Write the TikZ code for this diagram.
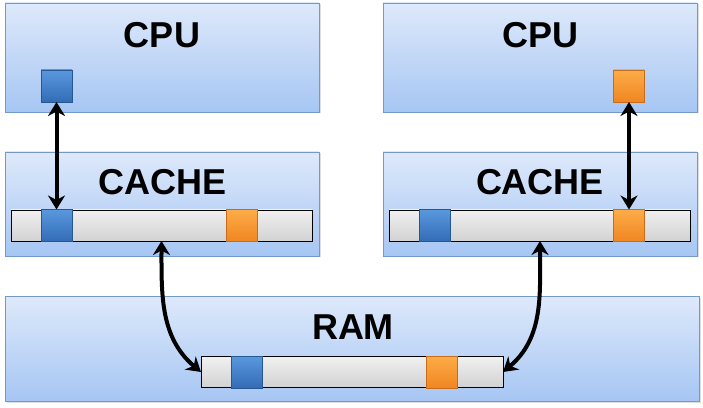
\documentclass[tikz,border=0pt]{standalone}
\usepackage{fontspec}
\setmainfont{Liberation Sans}
\usetikzlibrary{arrows.meta,shadows}
\definecolor{boxtop}{RGB}{222,233,251}
\definecolor{boxbot}{RGB}{166,198,243}
\definecolor{boxline}{RGB}{115,152,204}
\definecolor{bartop}{RGB}{240,240,240}
\definecolor{barbot}{RGB}{210,210,210}
\definecolor{bluetop}{RGB}{90,152,222}
\definecolor{bluebot}{RGB}{50,108,182}
\definecolor{blueline}{RGB}{38,86,148}
\definecolor{orangetop}{RGB}{253,172,72}
\definecolor{orangebot}{RGB}{240,134,34}
\definecolor{orangeline}{RGB}{198,108,28}

\begin{document}
\begin{tikzpicture}[x=1pt,y=1pt,
    box/.style={draw=boxline, line width=0.8pt, top color=boxtop, bottom color=boxbot,
      inner sep=0pt, outer sep=0pt, minimum width=314pt, anchor=north west,
      drop shadow={shadow xshift=1.5pt, shadow yshift=-1.5pt, opacity=0.25}},
    bar/.style={draw=black, line width=0.8pt, top color=bartop, bottom color=barbot,
      inner sep=0pt, outer sep=0pt, minimum width=301pt, minimum height=31pt},
    cell/.style={inner sep=0pt, outer sep=0pt, minimum width=31pt, minimum height=32pt, line width=0.8pt},
    bluecell/.style={cell, draw=blueline, top color=bluetop, bottom color=bluebot},
    orangecell/.style={cell, draw=orangeline, top color=orangetop, bottom color=orangebot},
    title/.style={font=\fontsize{36}{40}\selectfont\bfseries},
    link/.style={line width=4pt,
      arrows={Stealth[length=14pt,width=17pt,inset=4.5pt]-Stealth[length=14pt,width=17pt,inset=4.5pt]}}
  ]
  \useasboundingbox (0,0) rectangle (703,407);
  % boxes
  \node[box, minimum height=109pt] (cpuL) at (5,404) {};
  \node[box, minimum height=109pt] (cpuR) at (383,404) {};
  \node[box, minimum height=104pt] (cacheL) at (5,255) {};
  \node[box, minimum height=104pt] (cacheR) at (383,255) {};
  \node[box, minimum height=105pt, minimum width=694pt] (ram) at (5,111) {};
  % titles
  \node[title] (cpuLtitle) at (162,371.5) {CPU};
  \node[title] (cpuRtitle) at (540.5,371.5) {CPU};
  \node[title] (cacheLtitle) at (163,225) {CACHE};
  \node[title] (cacheRtitle) at (540,225) {CACHE};
  \node[title] (ramtitle) at (353,80) {RAM};
  % bars
  \node[bar] (barL) at (161.5,181.5) {};
  \node[bar] (barR) at (540,181.5) {};
  \node[bar, minimum width=302pt] (ramBar) at (352,35) {};
  % cells
  \node[bluecell] (cpuBlue) at (56.5,321) {};
  \node[orangecell] (cpuOrange) at (629,321) {};
  \node[bluecell] (cacheLBlue) at (56.5,181.5) {};
  \node[orangecell] (cacheLOrange) at (241.5,181.5) {};
  \node[bluecell] (cacheRBlue) at (434.5,181.5) {};
  \node[orangecell] (cacheROrange) at (629,181.5) {};
  \node[bluecell] (ramBlue) at (246.5,35) {};
  \node[orangecell] (ramOrange) at (442,35) {};
  % links
  \draw[link] (cpuBlue.south) -- (cacheLBlue.north);
  \draw[link] (cpuOrange.south) -- (cacheROrange.north);
  \draw[link] (barL.south) to[out=-90,in=140] (ramBar.west);
  \draw[link] (barR.south) to[out=-90,in=40] (ramBar.east);
\end{tikzpicture}
\end{document}
